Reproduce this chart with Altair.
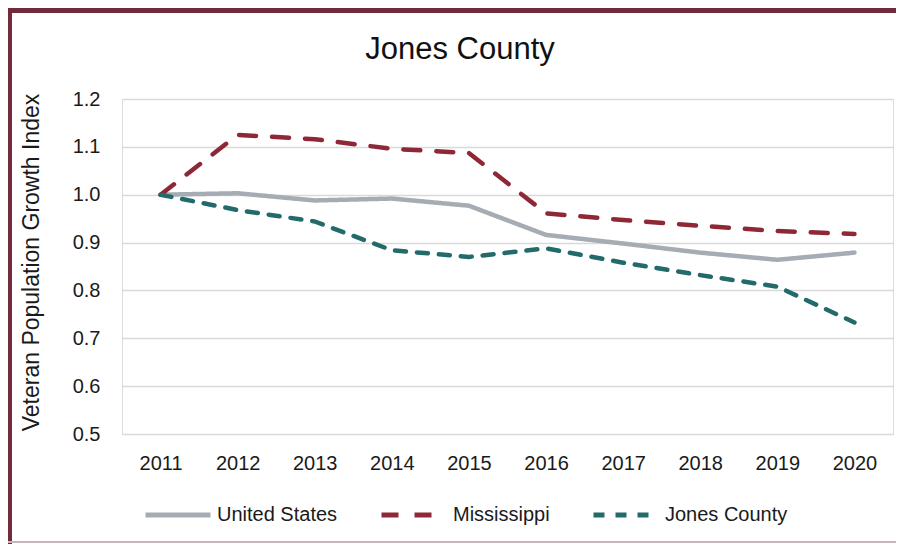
import altair as alt
import pandas as pd

years = [2011, 2012, 2013, 2014, 2015, 2016, 2017, 2018, 2019, 2020]
series_names = ["United States", "Mississippi", "Jones County"]
us = [1.000, 1.003, 0.988, 0.992, 0.977, 0.916, 0.898, 0.879, 0.864, 0.879]
ms = [1.000, 1.125, 1.116, 1.096, 1.087, 0.961, 0.947, 0.935, 0.924, 0.918]
jc = [1.000, 0.968, 0.944, 0.884, 0.870, 0.888, 0.858, 0.832, 0.808, 0.733]
y_ticks = [0.5, 0.6, 0.7, 0.8, 0.9, 1.0, 1.1, 1.2]
chart_title = ["Jones County"]

colors = ["#A5ACB4", "#8E2837", "#236A6B"]
dashes = [[1, 0], [17, 16], [11, 11]]

rows = []
for name, vals in zip(series_names, [us, ms, jc]):
    for yr, v in zip(years, vals):
        rows.append({"Year": str(yr), "Series": name, "Value": v})
df = pd.DataFrame(rows)

W, H = 771, 335
PL, PT = 114, 91
FONT = "Liberation Sans"

legend_kw = dict(title=None, orient="none", direction="horizontal",
                 legendX=21, legendY=381, gridAlign="none",
                 symbolType="stroke", symbolSize=4225, symbolStrokeWidth=5,
                 labelFontSize=20, labelFont=FONT, labelColor="#1a1a1a",
                 labelOffset=4, columnPadding=33)

lines = alt.Chart(df).mark_line(strokeWidth=4.5, strokeCap="round", strokeJoin="round").encode(
    x=alt.X("Year:O", title=None, sort=[str(y) for y in years],
            scale=alt.Scale(type="point", padding=0.5),
            axis=alt.Axis(labelAngle=0, ticks=False, domain=False, grid=False,
                          labelPadding=19, labelFontSize=20, labelColor="#1a1a1a", labelFont=FONT)),
    y=alt.Y("Value:Q", title="Veteran Population Growth Index",
            scale=alt.Scale(domain=[0.5, 1.2], nice=False, zero=False),
            axis=alt.Axis(values=y_ticks, format=".1f", ticks=False, domain=False,
                          gridColor="#D9D9D9", gridWidth=1.5,
                          labelPadding=22, labelFontSize=20, labelColor="#1a1a1a", labelFont=FONT,
                          titleFontSize=23, titleFont=FONT, titleFontWeight="normal", titleColor="#1a1a1a",
                          titleX=-91, titleY=163, titleAlign="center", titleBaseline="middle")),
    color=alt.Color("Series:N", scale=alt.Scale(domain=series_names, range=colors),
                    sort=series_names, legend=alt.Legend(**legend_kw)),
    strokeDash=alt.StrokeDash("Series:N", scale=alt.Scale(domain=series_names, range=dashes),
                              sort=series_names, legend=alt.Legend(**legend_kw)),
    order=alt.Order("Year:O"),
)

title_text = alt.Chart(pd.DataFrame({"t": chart_title})).mark_text(
    font=FONT, fontSize=31, color="#111111", align="center", baseline="alphabetic"
).encode(text="t:N", x=alt.value(460 - 122), y=alt.value(59 - 99))

border_top = alt.Chart(df).mark_rule(color="#722B3B", strokeWidth=5).encode(
    x=alt.value(-PL), x2=alt.value(W + 3), y=alt.value(-PT + 2.5))
border_left = alt.Chart(df).mark_rule(color="#722B3B", strokeWidth=4).encode(
    x=alt.value(-PL + 2), y=alt.value(-PT), y2=alt.value(H + 110))
border_bottom = alt.Chart(df).mark_rule(color="#C9B5B9", strokeWidth=2).encode(
    x=alt.value(-PL), x2=alt.value(W + 3), y=alt.value(H + 108))

chart = alt.layer(border_top, border_left, border_bottom, title_text, lines).properties(
    width=W, height=H,
    autosize=alt.AutoSizeParams(type="none"),
    padding={"left": PL, "top": PT, "right": 3, "bottom": 110},
).configure_view(stroke=None).configure(background="white")

chart.save("out.html", embed_options={"renderer": "svg", "actions": False})
